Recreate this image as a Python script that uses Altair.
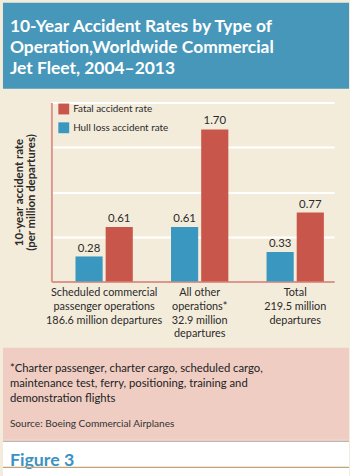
import altair as alt
import pandas as pd

# ---------------- data ----------------
title_lines = ["10-Year Accident Rates by Type of",
               "Operation,Worldwide Commercial",
               "Jet Fleet, 2004\u20132013"]
categories = ["Scheduled commercial|passenger operations|186.6 million departures",
              "All other|operations*|32.9 million|departures",
              "Total|219.5 million|departures"]
series = ["Hull loss accident rate", "Fatal accident rate"]
legend_order = ["Fatal accident rate", "Hull loss accident rate"]
hull_loss = [0.28, 0.61, 0.33]
fatal = [0.61, 1.70, 0.77]
y_title = ["10-year accident rate", "(per million departures)"]
footnote_lines = ["*Charter passenger, charter cargo, scheduled cargo,",
                  "maintenance test, ferry, positioning, training and",
                  "demonstration flights"]
source_text = ["Source: Boeing Commercial Airplanes"]
figure_label = ["Figure 3"]

# ---------------- styles ----------------
BAND = "#4797ba"
CREAM = "#f4ecdb"
PINK = "#efcdc2"
BLUE = "#3a97bf"
RED = "#c9564a"
AXIS = "#dc978d"
FIGBLUE = "#3b92c3"
TAN = "#c2a274"
TEXT = "#2a2a2a"
SANS = "Lato, Open Sans, sans-serif"

rows = []
for i, c in enumerate(categories):
    rows.append({"cat": c, "series": series[0], "rate": hull_loss[i]})
    rows.append({"cat": c, "series": series[1], "rate": fatal[i]})
df = pd.DataFrame(rows)

# ---------------- title panel ----------------
title_df = pd.DataFrame({"t": ["\n".join(title_lines)]})
title_panel = alt.Chart(title_df).mark_text(
    lineBreak="\n", align="left", baseline="alphabetic", font=SANS,
    fontWeight="bold", fontSize=17.6, lineHeight=21.3, color="white"
).encode(text="t:N", x=alt.value(7), y=alt.value(30)).properties(
    width=350, height=87, view=alt.ViewBackground(fill=BAND, stroke=None)
)

# ---------------- main chart ----------------
base = alt.Chart(df).encode(
    x=alt.X("cat:N", sort=categories, title=None,
            scale=alt.Scale(paddingInner=0.4, paddingOuter=0.18, align=0.7),
            axis=alt.Axis(labelExpr="split(datum.label, '|')", labelAngle=0,
                          ticks=False, grid=False, domainColor=AXIS, domainWidth=2,
                          labelFont=SANS, labelFontSize=11, labelLineHeight=14,
                          labelColor=TEXT, labelPadding=5)),
    xOffset=alt.XOffset("series:N", sort=series,
                        scale=alt.Scale(paddingInner=0.1, paddingOuter=0)),
    y=alt.Y("rate:Q", scale=alt.Scale(domain=[0, 2], nice=False), title=y_title,
            axis=alt.Axis(values=[0.5, 1, 1.5, 2], labels=False, ticks=False,
                          grid=True, gridColor="white", gridWidth=2,
                          domainColor=AXIS, domainWidth=2,
                          titleFont=SANS, titleFontSize=11.5, titleFontWeight="bold",
                          titleColor=TEXT, titlePadding=15, titleLineHeight=12.5)),
)
bars = base.mark_bar().encode(
    color=alt.Color("series:N",
                    scale=alt.Scale(domain=legend_order, range=[RED, BLUE]),
                    legend=alt.Legend(title=None, orient="none", legendX=56, legendY=102,
                                      symbolType="square", symbolSize=121,
                                      symbolStrokeWidth=0, labelFont=SANS,
                                      labelFontSize=10, labelColor=TEXT,
                                      labelOffset=4, rowPadding=8, padding=0))
)
values = base.mark_text(baseline="alphabetic", dy=-5, font=SANS, fontSize=11.5,
                        color=TEXT).encode(text=alt.Text("rate:Q", format=".2f"))
main = (bars + values).properties(width=286, height=181)

spacer = alt.Chart(pd.DataFrame({"s": [0]})).mark_point(opacity=0).encode(
    x=alt.value(0), y=alt.value(0)
).properties(width=49, height=181)

middle = alt.hconcat(spacer, main, spacing=0, bounds="flush")

# ---------------- footnote panel ----------------
foot_df = pd.DataFrame({"t": ["\n".join(footnote_lines)]})
foot_text = alt.Chart(foot_df).mark_text(
    lineBreak="\n", align="left", baseline="alphabetic", font=SANS,
    fontSize=11.4, lineHeight=15, color="#222222"
).encode(text="t:N", x=alt.value(7), y=alt.value(25))
src_text = alt.Chart(pd.DataFrame({"t": source_text})).mark_text(
    align="left", baseline="alphabetic", font=SANS, fontSize=10.2, color="#333333"
).encode(text="t:N", x=alt.value(7), y=alt.value(80))
foot_panel = alt.layer(foot_text, src_text).properties(
    width=350, height=93, view=alt.ViewBackground(fill=PINK, stroke=None)
)

# ---------------- figure label panel ----------------
one = pd.DataFrame({"t": figure_label})
top_line = alt.Chart(one).mark_rule(color="#c9b4ac", strokeWidth=1.5).encode(
    x=alt.value(0), x2=alt.value(350), y=alt.value(0.5))
fig_text = alt.Chart(one).mark_text(
    align="left", baseline="alphabetic", font=SANS, fontWeight="bold",
    fontSize=18, color=FIGBLUE
).encode(text="t:N", x=alt.value(7), y=alt.value(26))
tan_line = alt.Chart(one).mark_rule(color=TAN, strokeWidth=1.2).encode(
    x=alt.value(0), x2=alt.value(350), y=alt.value(27))
fig_panel = alt.layer(top_line, fig_text, tan_line).properties(
    width=350, height=36, view=alt.ViewBackground(fill="white", stroke=None)
)

top = alt.vconcat(title_panel, middle, spacing=11)
bottom = alt.vconcat(foot_panel, fig_panel, spacing=0)

chart = alt.vconcat(top, bottom, spacing=9).properties(
    padding=0, background=CREAM
).configure_view(stroke=None)

chart.save("out.html", embed_options={"renderer": "svg", "actions": False})
